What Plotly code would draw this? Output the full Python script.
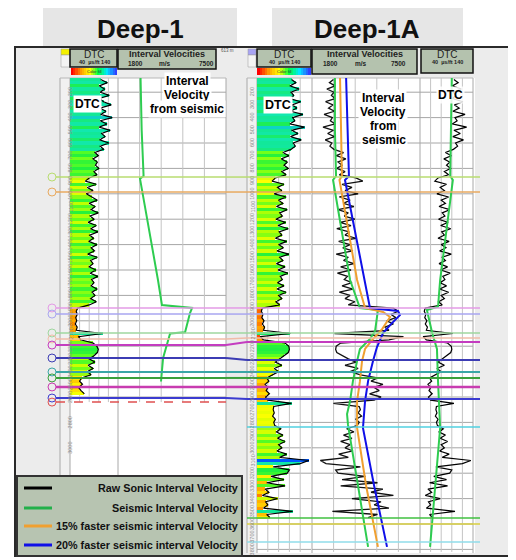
import plotly.graph_objects as go

# ============================ DATA ============================
# Deep-1 sonic (DTC, us/ft) sampled every 25 m
deep1_dtc_depth = list(range(100, 2600, 25))
deep1_dtc = [
    104, 118, 101, 112, 103, 122, 101, 110, 126, 102, 115, 104, 128, 103, 117, 101, 124, 106, 113, 102, 121, 103, 110,
    92, 99, 88, 97, 93, 100, 90, 96,
    80, 72, 95, 76, 88, 74,
    86, 97, 80, 92, 84, 99, 82, 90, 78, 95, 83, 98, 81, 89, 79, 96, 84, 91, 77, 97, 83, 88, 80, 94, 82, 98, 85, 90,
    84, 96, 86, 92, 83, 95, 80,
    56, 53, 55, 52, 54, 51, 55, 53,
    108, 58, 62, 88, 96, 99, 97, 90,
    80, 92, 78, 88, 76, 84,
    64, 60, 66, 58, 63, 70,
]

# Deep-1A sonic (DTC, us/ft) sampled every 25 m
deep1a_dtc_depth = list(range(100, 3575, 25))
deep1a_dtc = [
    104, 112, 101, 118, 103, 108, 101, 121, 105, 114, 102, 125, 106, 110, 101, 128, 104, 116, 102, 122, 107, 111, 103,
    88, 99, 85, 96, 90, 98, 86, 94,
    74, 68, 90, 78, 86, 72, 94, 80, 88, 76, 96, 82, 87, 75, 93, 79, 98, 81, 86, 74, 95, 80, 89, 77, 99, 82, 88, 76,
    92, 79, 97, 83, 87, 78,
    90, 77, 94, 80, 86, 75, 82,
    50, 48, 51, 49, 53, 50, 54, 52,
    102, 46, 52, 92, 99, 100, 98, 90,
    82, 74, 86, 72, 80, 70,
    58, 62, 55, 60, 57, 63, 56,
    60, 104, 71, 70, 72, 69, 74, 71, 73, 84, 76, 88, 78, 92, 80, 86, 77, 95,
    82, 136, 120, 70, 100, 96, 66, 90,
    58, 92, 55, 62, 50, 78, 56, 60, 52, 106, 58, 64,
]

# Seismic interval velocity (m/s) - Deep-1
deep1_seis_depth = [88, 500, 860, 880, 1679, 1876, 1899, 1939, 2090, 2100, 2293, 2478]
deep1_seis_vel = [2990, 3050, 3150, 2960, 3910, 4120, 5710, 5600, 5340, 4550, 4180, 4070]

# Seismic interval velocity (m/s) - Deep-1A
deep1a_seis_depth = [88, 498, 860, 891, 1679, 1899, 1915, 2080, 2143, 2222, 2317, 2475, 2632, 2734, 2820, 3293, 3780]
deep1a_seis_vel = [3010, 3010, 3070, 2910, 3810, 4330, 5280, 5130, 4860, 4330, 4180, 3960, 3810, 3650, 3700, 4230, 4760]

# 15 % faster seismic interval velocity - Deep-1A
deep1a_15_depth = [88, 860, 891, 1679, 1899, 1931, 1970, 2065, 2143, 2222, 2317, 2475, 2632, 2844, 3293, 3780]
deep1a_15_vel = [3280, 3380, 3250, 4180, 4600, 5550, 5920, 5500, 5020, 4600, 4440, 4330, 4180, 4180, 4650, 5280]

# 20 % faster seismic interval velocity - Deep-1A
deep1a_20_depth = [88, 860, 891, 1679, 1899, 1923, 1955, 2018, 2096, 2207, 2317, 2475, 2632, 2844, 3293, 3780]
deep1a_20_vel = [3600, 3750, 3540, 4600, 4860, 6340, 6440, 6020, 5550, 5230, 5020, 4760, 4600, 4490, 5070, 5760]

# Seismic velocity shown as slowness in the right DTC track of Deep-1A (us/ft)
deep1a_seis_dtc_depth = [88, 860, 891, 1679, 1890, 1915, 2096, 2222, 2475, 2844, 3780]
deep1a_seis_dtc = [100, 97, 102, 78, 74, 53, 63, 72, 74, 78, 59]

# Well tops (m) correlated between the wells
deep1_marker_depths = [868, 986, 1899, 1947, 2096, 2143, 2191, 2293, 2403, 2450, 2521, 2608]
deep1a_marker_depths = [868, 986, 1899, 1947, 2096, 2136, 2167, 2309, 2403, 2450, 2521, 2616]
deep1_td_depth = 2640
deep1a_only_marker_depths = [2836, 3553, 3600, 3742]

# Axis ticks / labels
depth_labels_deep1 = list(range(200, 2700, 100)) + [2800, 3000]
depth_labels_deep1a = list(range(200, 3900, 100))
grid_depths = list(range(200, 3900, 200))
vel_grid = [2940, 4080, 5220, 6360]
dtc_grid = [60, 80, 100, 120]

well_titles = ["Deep-1", "Deep-1A"]
legend_labels = [
    "Raw Sonic Interval Velocity",
    "Seismic Interval Velocity",
    "15% faster seismic interval Velocity",
    "20% faster seismic interval Velocity",
]

# raw sonic interval velocity (m/s) from the sonic slowness
deep1a_raw_vel = [304800.0 / v for v in deep1a_dtc]

# ============================ STYLE / LAYOUT ============================
# the page body adds an 8 px margin: the figure is drawn 8 px smaller and shifted
OFF = 8
W, H = 516 - OFF, 560 - OFF
FONT = "Liberation Sans, Arial, sans-serif"


def px(x):
    return (x - OFF) / W


def py(y):
    return 1 - (y - OFF) / H


GREEN = "#2ecc50"
ORANGE = "#f0a030"
BLUE = "#1010e8"

MARKER_COLORS = ["#b8dc70", "#e8aa60", "#e39be6", "#a9a6f0", "#9fd79f", "#f1bca8",
                 "#c43cc0", "#3c3cb4", "#3aa6a6", "#3aa03a", "#c83cb0", "#3c3cd0"]
MARKER_WIDTHS = [1.5, 1.5, 1.5, 1.5, 1.5, 1.5, 2, 2, 2, 2, 2.5, 2]
D1A_ONLY_COLORS = ["#50d0e0", "#40c040", "#d8cf40", "#90dcea"]

dtc_colorscale = [
    [0.00, "#ff0000"], [0.12, "#ff9900"], [0.28, "#ffff00"], [0.40, "#c0ff00"],
    [0.50, "#60ff20"], [0.60, "#20f040"], [0.64, "#12e896"], [0.86, "#12e8b0"],
    [0.93, "#00a0ff"], [1.00, "#0000ff"],
]
header_rainbow = [[0, "#ff0000"], [0.2, "#ff9900"], [0.4, "#ffff00"], [0.6, "#00ff40"],
                  [0.8, "#00e5ff"], [1, "#3040ff"]]

TOP_DEPTH = 88
D1A_BOTTOM_DEPTH = 3820
# depth shown at the top / bottom pixel row of the figure
DEPTH_AT_TOP = 600 + (OFF - 143) / 0.127
DEPTH_AT_BOTTOM = 600 + (560 - 143) / 0.127

fig = go.Figure()

# ---- traces ----
common = dict(showlegend=False, hoverinfo="skip")
fig.add_trace(go.Bar(y=deep1_dtc_depth, x=deep1_dtc, orientation="h", width=25,
                     marker=dict(color=deep1_dtc, colorscale=dtc_colorscale, cmin=40, cmax=140, line=dict(width=0)),
                     xaxis="x", yaxis="y", **common))
fig.add_trace(go.Scatter(x=deep1_dtc, y=deep1_dtc_depth, mode="lines", line=dict(color="black", width=1.2),
                         xaxis="x", yaxis="y", **common))
fig.add_trace(go.Scatter(x=deep1_seis_vel, y=deep1_seis_depth, mode="lines", line=dict(color=GREEN, width=2),
                         xaxis="x2", yaxis="y", **common))

fig.add_trace(go.Bar(y=deep1a_dtc_depth, x=deep1a_dtc, orientation="h", width=25,
                     marker=dict(color=deep1a_dtc, colorscale=dtc_colorscale, cmin=40, cmax=140, line=dict(width=0)),
                     xaxis="x3", yaxis="y", **common))
fig.add_trace(go.Scatter(x=deep1a_dtc, y=deep1a_dtc_depth, mode="lines", line=dict(color="black", width=1.2),
                         xaxis="x3", yaxis="y", **common))

fig.add_trace(go.Scatter(x=deep1a_raw_vel, y=deep1a_dtc_depth, mode="lines", line=dict(color="#111111", width=1.3),
                         xaxis="x4", yaxis="y", **common))
fig.add_trace(go.Scatter(x=deep1a_seis_vel, y=deep1a_seis_depth, mode="lines", line=dict(color=GREEN, width=2),
                         xaxis="x4", yaxis="y", **common))
fig.add_trace(go.Scatter(x=deep1a_15_vel, y=deep1a_15_depth, mode="lines", line=dict(color=ORANGE, width=2),
                         xaxis="x4", yaxis="y", **common))
fig.add_trace(go.Scatter(x=deep1a_20_vel, y=deep1a_20_depth, mode="lines", line=dict(color=BLUE, width=2),
                         xaxis="x4", yaxis="y", **common))

fig.add_trace(go.Scatter(x=deep1a_dtc, y=deep1a_dtc_depth, mode="lines", line=dict(color="black", width=1.2),
                         xaxis="x5", yaxis="y", **common))
fig.add_trace(go.Scatter(x=deep1a_seis_dtc, y=deep1a_seis_dtc_depth, mode="lines", line=dict(color=GREEN, width=2),
                         xaxis="x5", yaxis="y", **common))

# header colour-fill bars
scale_steps = list(range(0, 21))
fig.add_trace(go.Heatmap(z=[scale_steps], colorscale=header_rainbow, showscale=False, xaxis="x6", yaxis="y2", **common))
fig.add_trace(go.Heatmap(z=[scale_steps], colorscale=header_rainbow, showscale=False, xaxis="x7", yaxis="y2", **common))

# ---- shapes ----
shapes = []
annotations = []


def prect(x0, y0, x1, y1, fill, line_color=None, lw=0, layer="above"):
    shapes.append(dict(type="rect", xref="paper", yref="paper", x0=px(x0), x1=px(x1), y0=py(y1), y1=py(y0),
                       fillcolor=fill, line=dict(color=line_color or fill, width=lw), layer=layer))


def pline(x0, y0, x1, y1, color, lw=1, layer="below"):
    shapes.append(dict(type="line", xref="paper", yref="paper", x0=px(x0), x1=px(x1), y0=py(y0), y1=py(y1),
                       line=dict(color=color, width=lw), layer=layer))


def ann(x, y, text, size, color="black", bold=False, family=FONT, xanchor="center", bg=None, **kw):
    d = dict(xref="paper", yref="paper", x=px(x), y=py(y), text=("<b>%s</b>" % text) if bold else text,
             showarrow=False, xanchor=xanchor, yanchor="middle",
             font=dict(size=size, color=color, family=family))
    if bg:
        d["bgcolor"] = bg
        d["borderpad"] = 1
    d.update(kw)
    annotations.append(d)


# frame and backgrounds
prect(15, 47, 510, 556, "#ececec", "#2a2a2a", 2, layer="below")
prect(60, 78, 226, 553, "white", layer="below")
prect(247, 78, 475, 553, "white", layer="below")
prect(60, 78, 70, 553, "#f1f1f1", layer="below")
prect(247, 78, 257, 553, "#f1f1f1", layer="below")

# title tabs
prect(43, 4, 237, 46, "#e6e6e6", layer="below")
prect(272, 4, 463, 46, "#e6e6e6", layer="below")
ann(140, 29, well_titles[0], 26, bold=True, color="#111111")
ann(367, 29, well_titles[1], 26, bold=True, color="#111111")

# track borders
for x in (60, 70, 118, 226, 247, 257, 312, 420, 473):
    pline(x, 78, x, 553, "#a8a8a8", 1)
pline(60, 78, 226, 78, "#b8b8b8", 1)
pline(247, 78, 473, 78, "#b8b8b8", 1)


# grid lines (depth based)
def grid(axis, vlines, bottom):
    for v in vlines:
        shapes.append(dict(type="line", xref=axis, yref="y", x0=v, x1=v, y0=TOP_DEPTH, y1=bottom,
                           line=dict(color="#c4c4c4", width=1), layer="below"))
    for g in grid_depths:
        if g <= bottom:
            shapes.append(dict(type="line", xref=axis + " domain", yref="y", x0=0, x1=1, y0=g, y1=g,
                               line=dict(color="#a6a6a6", width=1), layer="below"))


grid("x", dtc_grid, deep1_td_depth)
grid("x2", vel_grid, deep1_td_depth)
grid("x3", dtc_grid, D1A_BOTTOM_DEPTH)
grid("x4", vel_grid, D1A_BOTTOM_DEPTH)
grid("x5", dtc_grid, D1A_BOTTOM_DEPTH)

# headers
HDR = "#b4c2ae"
prect(61, 49, 70, 55, "#f4f000", "#999999", 0.5)
prect(61, 55, 70, 67, "#f4f4f4", "#999999", 0.5)
prect(248, 49, 256, 55, "#a8a4f4", "#999999", 0.5)
prect(248, 55, 256, 67, "#f4f4f4", "#999999", 0.5)
prect(70, 49, 117, 67, HDR, "#111111", 1.5)
prect(118, 49, 216, 69, HDR, "#111111", 1.5)
prect(257, 49, 311, 67, HDR, "#111111", 1.5)
prect(312, 49, 417, 74, HDR, "#111111", 1.5)
prect(421, 49, 473, 73, HDR, "#111111", 1.5)

for cx in (94, 284, 447):
    ann(cx, 54, "DTC", 10, color="#222222")
    ann(cx, 62.5, "40  µs/ft 140", 5.5, color="#222222", bold=True)
ann(94, 71.5, "Color fill", 4, color="#333333")
ann(284, 71.5, "Color fill", 4, color="#333333")

ann(167, 54, "Interval Velocities", 9, bold=True, color="#222222")
ann(135, 63.5, "1800", 6.5, bold=True, color="#222222")
ann(165, 63.5, "m/s", 6.5, bold=True, color="#222222")
ann(206, 63.5, "7500", 6.5, bold=True, color="#222222")
ann(365, 54, "Interval Velocities", 9, bold=True, color="#222222")
ann(330, 63.5, "1800", 6.5, bold=True, color="#222222")
ann(361, 63.5, "m/s", 6.5, bold=True, color="#222222")
ann(398, 63.5, "7500", 6.5, bold=True, color="#222222")
ann(227, 50, "613 m", 4.5, color="#555555")

# depth labels
for d in depth_labels_deep1:
    annotations.append(dict(xref="paper", yref="y", x=px(65), y=d, text=str(d), textangle=-90, showarrow=False,
                            font=dict(size=5.5, color="#8a8a8a", family=FONT)))
for d in depth_labels_deep1a:
    annotations.append(dict(xref="paper", yref="y", x=px(252), y=d, text=str(d), textangle=-90, showarrow=False,
                            font=dict(size=5.5, color="#8a8a8a", family=FONT)))


# well-top markers
def dline(x0, d0, x1, d1, color, lw, dash="solid"):
    shapes.append(dict(type="line", xref="paper", yref="y", x0=px(x0), x1=px(x1), y0=d0, y1=d1,
                       line=dict(color=color, width=lw, dash=dash)))


def dcircle(x, d, color):
    shapes.append(dict(type="circle", xref="paper", yref="y", xsizemode="pixel", ysizemode="pixel",
                       xanchor=px(x), yanchor=d, x0=-4, x1=4, y0=-4, y1=4,
                       line=dict(color=color, width=1)))


for i, (d1, d1a) in enumerate(zip(deep1_marker_depths, deep1a_marker_depths)):
    c, w = MARKER_COLORS[i], MARKER_WIDTHS[i]
    dcircle(52, d1, c)
    dline(56, d1, 226, d1, c, w)
    dline(226, d1, 247, d1a, c, w)
    dline(247, d1a, 480, d1a, c, w)
dcircle(52, deep1_td_depth, "#e05050")
dline(56, deep1_td_depth, 226, deep1_td_depth, "#e05050", 1.5, "dash")
for c, d in zip(D1A_ONLY_COLORS, deep1a_only_marker_depths):
    dline(247, d, 480, d, c, 1.5)

# in-track labels
ann(187, 81, "Interval", 12, bold=True, bg="white")
ann(187, 95, "Velocity", 12, bold=True, bg="white")
ann(187, 109, "from seismic", 12, bold=True, bg="white")
ann(383, 98, "Interval", 12, bold=True, bg="white")
ann(383, 112, "Velocity", 12, bold=True, bg="white")
ann(383, 126, "from", 12, bold=True, bg="white")
ann(384, 140, "seismic", 12, bold=True, bg="white")
ann(87, 104, "DTC", 12, bold=True, bg="white")
ann(278, 105, "DTC", 12.5, bold=True, bg="white")
ann(450, 95, "DTC", 12, bold=True, bg="rgba(255,255,255,0.85)")

# legend
prect(17, 476, 242, 556, "#b7c4b1", "#333333", 2)
legend_colors = ["#000000", "#22b04a", ORANGE, BLUE]
legend_y = [488, 508, 526, 545]
for lab, col, y in zip(legend_labels, legend_colors, legend_y):
    pline(24, y, 52, y, col, 3, layer="above")
    ann(240, y, lab, 10.8, bold=True, color="#111111", xanchor="right")

# ---- axes ----
ax_hidden = dict(visible=False, showgrid=False, zeroline=False, fixedrange=True)
layout = dict(
    width=W, height=H, margin=dict(l=0, r=0, t=0, b=0, pad=0),
    paper_bgcolor="white", plot_bgcolor="rgba(0,0,0,0)",
    showlegend=False, barmode="overlay", bargap=0,
    yaxis=dict(domain=[0, 1], range=[DEPTH_AT_BOTTOM, DEPTH_AT_TOP], anchor="x", **ax_hidden),
    xaxis=dict(domain=[px(70), px(118)], range=[40, 140], anchor="y", **ax_hidden),
    xaxis2=dict(domain=[px(118), px(226)], range=[1800, 7500], anchor="y", **ax_hidden),
    xaxis3=dict(domain=[px(257), px(311)], range=[40, 140], anchor="y", **ax_hidden),
    xaxis4=dict(domain=[px(312), px(420)], range=[1800, 7500], anchor="y", **ax_hidden),
    xaxis5=dict(domain=[px(420), px(473)], range=[40, 140], anchor="y", **ax_hidden),
    xaxis6=dict(domain=[px(71), px(117)], anchor="y2", **ax_hidden),
    xaxis7=dict(domain=[px(257), px(311)], anchor="y2", **ax_hidden),
    yaxis2=dict(domain=[py(75), py(68)], anchor="x6", **ax_hidden),
    shapes=shapes, annotations=annotations,
    font=dict(family=FONT),
)
fig.update_layout(**layout)
fig.write_html("out.html")
